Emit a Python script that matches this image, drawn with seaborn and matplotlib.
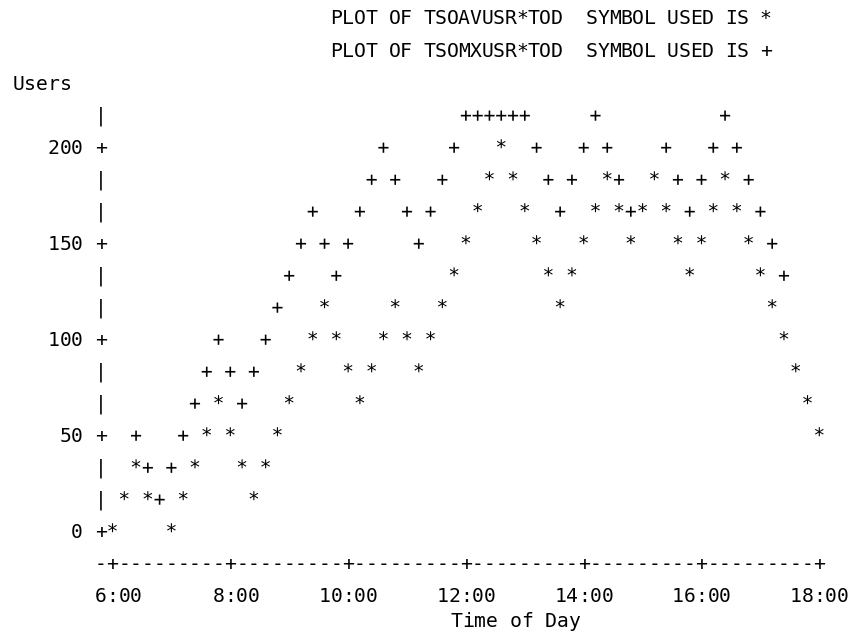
import numpy as np
import pandas as pd
import matplotlib
matplotlib.use("Agg")
import matplotlib.pyplot as plt
import seaborn as sns
from matplotlib.textpath import TextPath
from matplotlib.font_manager import FontProperties
from matplotlib.path import Path

# ==============================
# data (one column = 12 minutes)
# None = point hidden under the other symbol
# ==============================

tod = [
    "6:00", "6:12", "6:24", "6:36", "6:48", "7:00", "7:12", "7:24", "7:36", "7:48",
    "8:00", "8:12", "8:24", "8:36", "8:48", "9:00", "9:12", "9:24", "9:36", "9:48",
    "10:00", "10:12", "10:24", "10:36", "10:48", "11:00", "11:12", "11:24", "11:36", "11:48",
    "12:00", "12:12", "12:24", "12:36", "12:48", "13:00", "13:12", "13:24", "13:36", "13:48",
    "14:00", "14:12", "14:24", "14:36", "14:48", "15:00", "15:12", "15:24", "15:36", "15:48",
    "16:00", "16:12", "16:24", "16:36", "16:48", "17:00", "17:12", "17:24", "17:36", "17:48",
    "18:00",
]

avg_users = [
    0, 16.7, 33.3, 16.7, None, 0, 16.7, 33.3, 50, 66.7,
    50, 33.3, 16.7, 33.3, 50, 66.7, 83.3, 100, 116.7, 100,
    83.3, 66.7, 83.3, 100, 116.7, 100, 83.3, 100, 116.7, 133.3,
    150, 166.7, 183.3, 200, 183.3, 166.7, 150, 133.3, 116.7, 133.3,
    150, 166.7, 183.3, 166.7, 150, 166.7, 183.3, 166.7, 150, 133.3,
    150, 166.7, 183.3, 166.7, 150, 133.3, 116.7, 100, 83.3, 66.7,
    50,
]

max_users = [
    None, None, 50, 33.3, 16.7, 33.3, 50, 66.7, 83.3, 100,
    83.3, 66.7, 83.3, 100, 116.7, 133.3, 150, 166.7, 150, 133.3,
    150, 166.7, 183.3, 200, 183.3, 166.7, 150, 166.7, 183.3, 200,
    216.7, 216.7, 216.7, 216.7, 216.7, 216.7, 200, 183.3, 166.7, 183.3,
    200, 216.7, 200, 183.3, 166.7, None, None, 200, 183.3, 166.7,
    183.3, 200, 216.7, 200, 183.3, 166.7, 150, 133.3, None, None,
    None,
]

y_ticks = [0, 50, 100, 150, 200]
x_ticks = ["6:00", "8:00", "10:00", "12:00", "14:00", "16:00", "18:00"]

titles = ["PLOT OF TSOAVUSR*TOD  SYMBOL USED IS *",
          "PLOT OF TSOMXUSR*TOD  SYMBOL USED IS +"]


def to_hours(s):
    h, m = s.split(":")
    return int(h) + int(m) / 60


df = pd.DataFrame({
    "hour": [to_hours(t) for t in tod] * 2,
    "users": avg_users + max_users,
    "series": ["TSOAVUSR"] * len(tod) + ["TSOMXUSR"] * len(tod),
}).dropna()

# ==============================
# printer grid: 1 column = 0.2 h, 1 row = 50/3 users
# ==============================

FS = 14.2
FONT = FontProperties(family="DejaVu Sans Mono", size=FS)
COL_PX, ROW_PX = 11.78, 32.0
X0_PX, Y0_PX = 112.5, 531.7          # pixel position of 6:00 / 0 users
W, H = 853, 639


def col_x(c):
    return 6 + c / 5


def row_y(r):
    return r * 50 / 3


# centre of "+" glyph, used as reference point of each character cell
pb = TextPath((0, 0), "+", size=1, prop=FONT).get_extents()
cx, cy = (pb.x0 + pb.x1) / 2, (pb.y0 + pb.y1) / 2
R = 0.6


def glyph_marker(ch):
    tp = TextPath((0, 0), ch, size=1, prop=FONT)
    verts = np.vstack([tp.vertices - [cx, cy], [[-R, -R], [R, R]]])
    codes = np.concatenate([tp.codes, [Path.MOVETO, Path.MOVETO]])
    return Path(verts, codes)


sns.set_style("white")

fig = plt.figure(figsize=(W / 100, H / 100), dpi=100)
ax = fig.add_axes([0, 0, 1, 1])

sns.scatterplot(
    data=df, x="hour", y="users", style="series",
    markers={"TSOAVUSR": glyph_marker("*"), "TSOMXUSR": glyph_marker("+")},
    s=(2 * R * FS) ** 2, color="black", edgecolor="none", linewidth=0,
    legend=False, ax=ax,
)
for coll in ax.collections:
    coll.set_snap(False)

units_per_px_x = (COL_PX * 5) ** -1
units_per_px_y = (50 / 3) / ROW_PX
ax.set_xlim(6 - X0_PX * units_per_px_x, 6 + (W - X0_PX) * units_per_px_x)
ax.set_ylim(-(H - Y0_PX) * units_per_px_y, Y0_PX * units_per_px_y)
ax.axis("off")

em_y = FS * 100 / 72 * units_per_px_y


def put(c, r, s, pitch=1.0):
    for i, ch in enumerate(s):
        if ch != " ":
            ax.text(col_x(c + i * pitch), row_y(r) - cy * em_y, ch,
                    fontproperties=FONT, ha="center", va="baseline",
                    color="black")


# titles and axis label
put(19, 16.05, titles[0], pitch=0.985)
put(19, 15.03, titles[1], pitch=0.985)
put(-8, 14, "Users")

# vertical axis
tick_rows = [int(round(v * 3 / 50)) for v in y_ticks]
for r in range(0, 14):
    put(-1, r, "+" if r in tick_rows else "|")
for v, r in zip(y_ticks, tick_rows):
    s = str(v)
    put(-2 - len(s), r, s)

# horizontal axis
tick_cols = [int(round((to_hours(t) - 6) * 5)) for t in x_ticks]
put(-1, -1, "-")
for c in range(0, 61):
    put(c, -1, "+" if c in tick_cols else "-")
for t, c in zip(x_ticks, tick_cols):
    put(c - 2, -2, t.rjust(5))
put(29.2, -2.78, "Time of Day")

fig.savefig("out.png", dpi=100)
